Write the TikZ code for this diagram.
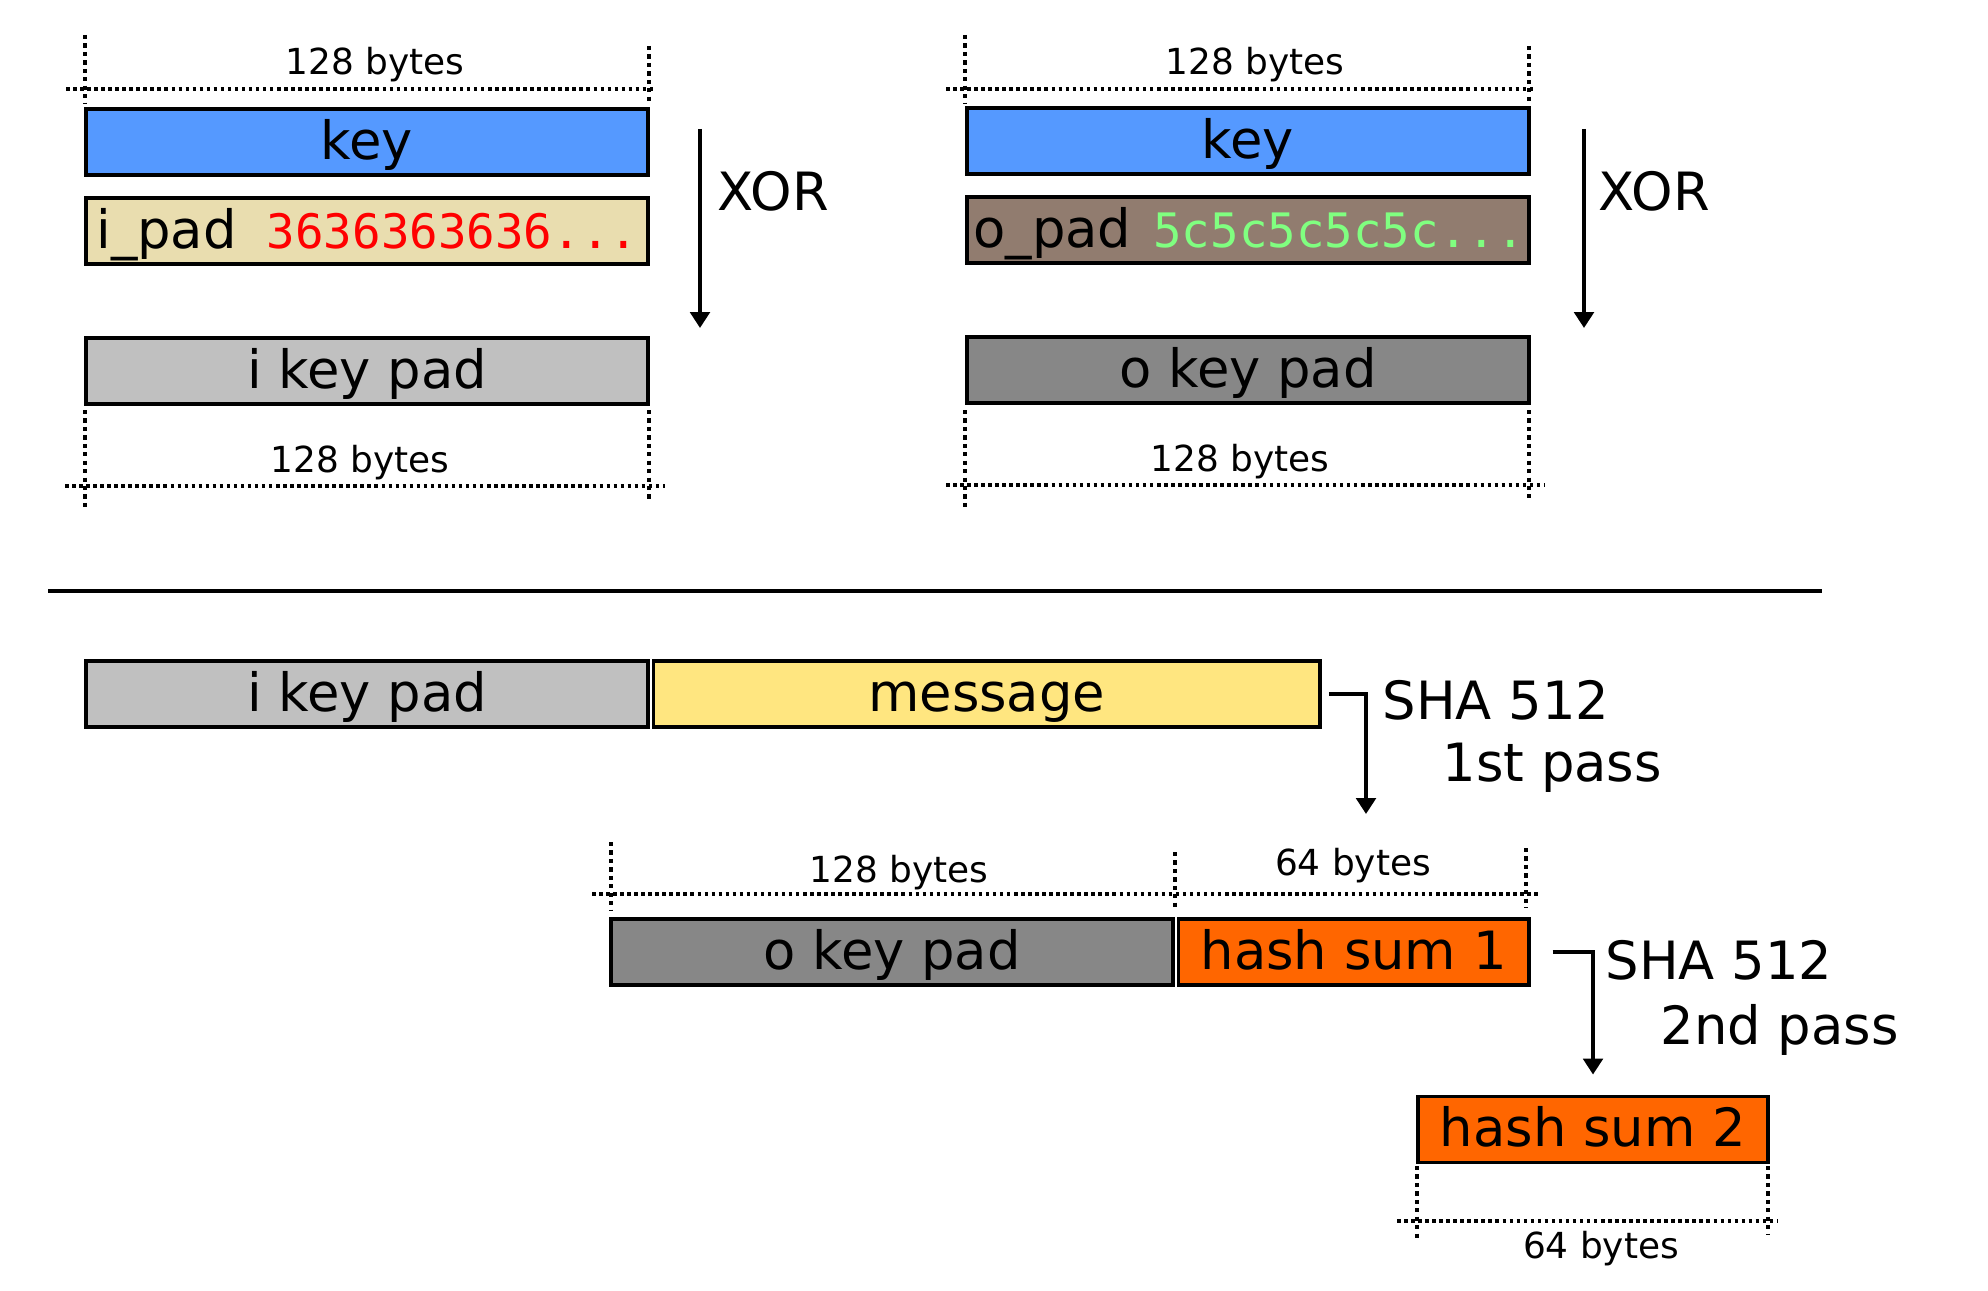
\documentclass[tikz,border=0pt]{standalone}
\usepackage{fontspec}
\setmainfont{DejaVu Sans}
\setmonofont{DejaVu Sans Mono}
\usetikzlibrary{arrows.meta,positioning}

\definecolor{keyblue}{HTML}{5599FF}
\definecolor{ipadtan}{HTML}{E9DDAF}
\definecolor{opadbrown}{HTML}{917C6F}
\definecolor{ikeygray}{HTML}{C0C0C0}
\definecolor{okeygray}{HTML}{878787}
\definecolor{msgyellow}{HTML}{FFE680}
\definecolor{hashorange}{HTML}{FF6600}
\definecolor{ipadred}{HTML}{FF0000}
\definecolor{opadgreen}{HTML}{80FF80}

\newcommand{\padhex}[2]{{\ttfamily\fontsize{13.5}{16}\selectfont\color{#1}#2}}

\tikzset{
    field/.style={draw=black, line width=1.1pt, inner sep=0pt,
        minimum height=0.66cm, text height=10.5pt, text depth=0.8pt,
        font=\fontsize{15}{18}\selectfont},
    block/.style={field, minimum width=5.61cm},
    hashblock/.style={field, fill=hashorange, minimum width=3.5cm},
    padblock/.style={field, inner xsep=0.06cm},
    bytesline/.style={line width=1pt, dash pattern=on 1pt off 1pt},
    bytestick/.style={line width=1pt, dash pattern=on 1.2pt off 1.2pt},
    bytelabel/.style={font=\fontsize{10.2}{12}\selectfont, inner sep=0pt, anchor=base},
    flowarrow/.style={line width=1.1pt, -{Triangle[width=5.5pt,length=4.5pt]}},
    steptext/.style={font=\fontsize{15}{18}\selectfont, inner sep=0pt, anchor=base west},
}

\begin{document}
\begin{tikzpicture}[x=0.01cm, y=-0.01cm]
    \useasboundingbox (0,0) rectangle (1988,1291);

    %Nodes
    \node[block, fill=keyblue]      at (367,142)  (keyA)  {key};
    \node[padblock, fill=ipadtan]   at (367,231)  (ipad)  {\makebox[5.49cm][l]{\hspace{0.04cm}i\_pad\hspace{0.3cm}\padhex{ipadred}{3636363636...}}};
    \node[block, fill=ikeygray]     at (367,371)  (ikeyA) {i key pad};
    \node[block, fill=keyblue]      at (1248,141) (keyB)  {key};
    \node[padblock, fill=opadbrown] at (1248,230) (opad)  {\makebox[5.49cm][l]{o\_pad\hspace{0.22cm}\padhex{opadgreen}{5c5c5c5c5c...}}};
    \node[block, fill=okeygray]     at (1248,370) (okeyA) {o key pad};

    \node[steptext] at (717,211)  (xorA) {XOR};
    \node[steptext] at (1598,211) (xorB) {XOR};

    \node[block, fill=ikeygray] at (367,694) (ikeyB) {i key pad};
    \node[field, fill=msgyellow, minimum width=6.66cm, right=0.02cm of ikeyB] (msg) {message};
    \node[block, fill=okeygray] at (892,952) (okeyB) {o key pad};
    \node[hashblock, right=0.02cm of okeyB] (hashA) {hash sum 1};
    \node[hashblock] at (1593,1129.5) (hashB) {hash sum 2};

    \node[steptext] at (1382,719)  (shaA)  {SHA 512};
    \node[steptext] at (1442,781)  (passA) {1st pass};
    \node[steptext] at (1605,979)  (shaB)  {SHA 512};
    \node[steptext] at (1660,1044) (passB) {2nd pass};

    \node[bytelabel] at (375,75)   (sizeA) {128 bytes};
    \node[bytelabel] at (360,472)  (sizeB) {128 bytes};
    \node[bytelabel] at (1255,75)  (sizeC) {128 bytes};
    \node[bytelabel] at (1240,471) (sizeD) {128 bytes};
    \node[bytelabel] at (899,882)  (sizeE) {128 bytes};
    \node[bytelabel] at (1353,875) (sizeF) {64 bytes};
    \node[bytelabel] at (1601,1258) (sizeG) {64 bytes};

    \coordinate (xorAtop) at (700,129);
    \coordinate (xorAend) at (700,328);
    \coordinate (xorBtop) at (1584,129);
    \coordinate (xorBend) at (1584,328);
    \coordinate (passAend) at (1366,814);

    %Lines
    \draw[flowarrow] (xorAtop) -- (xorAend);
    \draw[flowarrow] (xorBtop) -- (xorBend);
    \draw[flowarrow] ([xshift=0.07cm]msg.east) -| (passAend);
    \draw[flowarrow] ([xshift=0.22cm]hashA.east) -| ([yshift=0.2cm]hashB.north);

    \draw[line width=0.9pt] (48,591) -- (1822,591);

    \draw[bytestick] (85,35) -- (85,103);
    \draw[bytestick] (649,46) -- (649,103);
    \draw[bytesline] (66,89) -- (656,89);
    \draw[bytestick] (85,410) -- (85,508);
    \draw[bytestick] (649,410) -- (649,500);
    \draw[bytesline] (65,486) -- (665,486);

    \draw[bytestick] (965,35) -- (965,103);
    \draw[bytestick] (1529,46) -- (1529,103);
    \draw[bytesline] (946,89) -- (1536,89);
    \draw[bytestick] (965,410) -- (965,507);
    \draw[bytestick] (1529,410) -- (1529,498);
    \draw[bytesline] (946,485) -- (1544,485);

    \draw[bytestick] (611,842) -- (611,910);
    \draw[bytestick] (1175,852) -- (1175,911);
    \draw[bytestick] (1526,848) -- (1526,908);
    \draw[bytesline] (592,894) -- (1539,894);

    \draw[bytestick] (1417,1166) -- (1417,1238);
    \draw[bytestick] (1768,1166) -- (1768,1234);
    \draw[bytesline] (1397,1221) -- (1777,1221);
\end{tikzpicture}
\end{document}
